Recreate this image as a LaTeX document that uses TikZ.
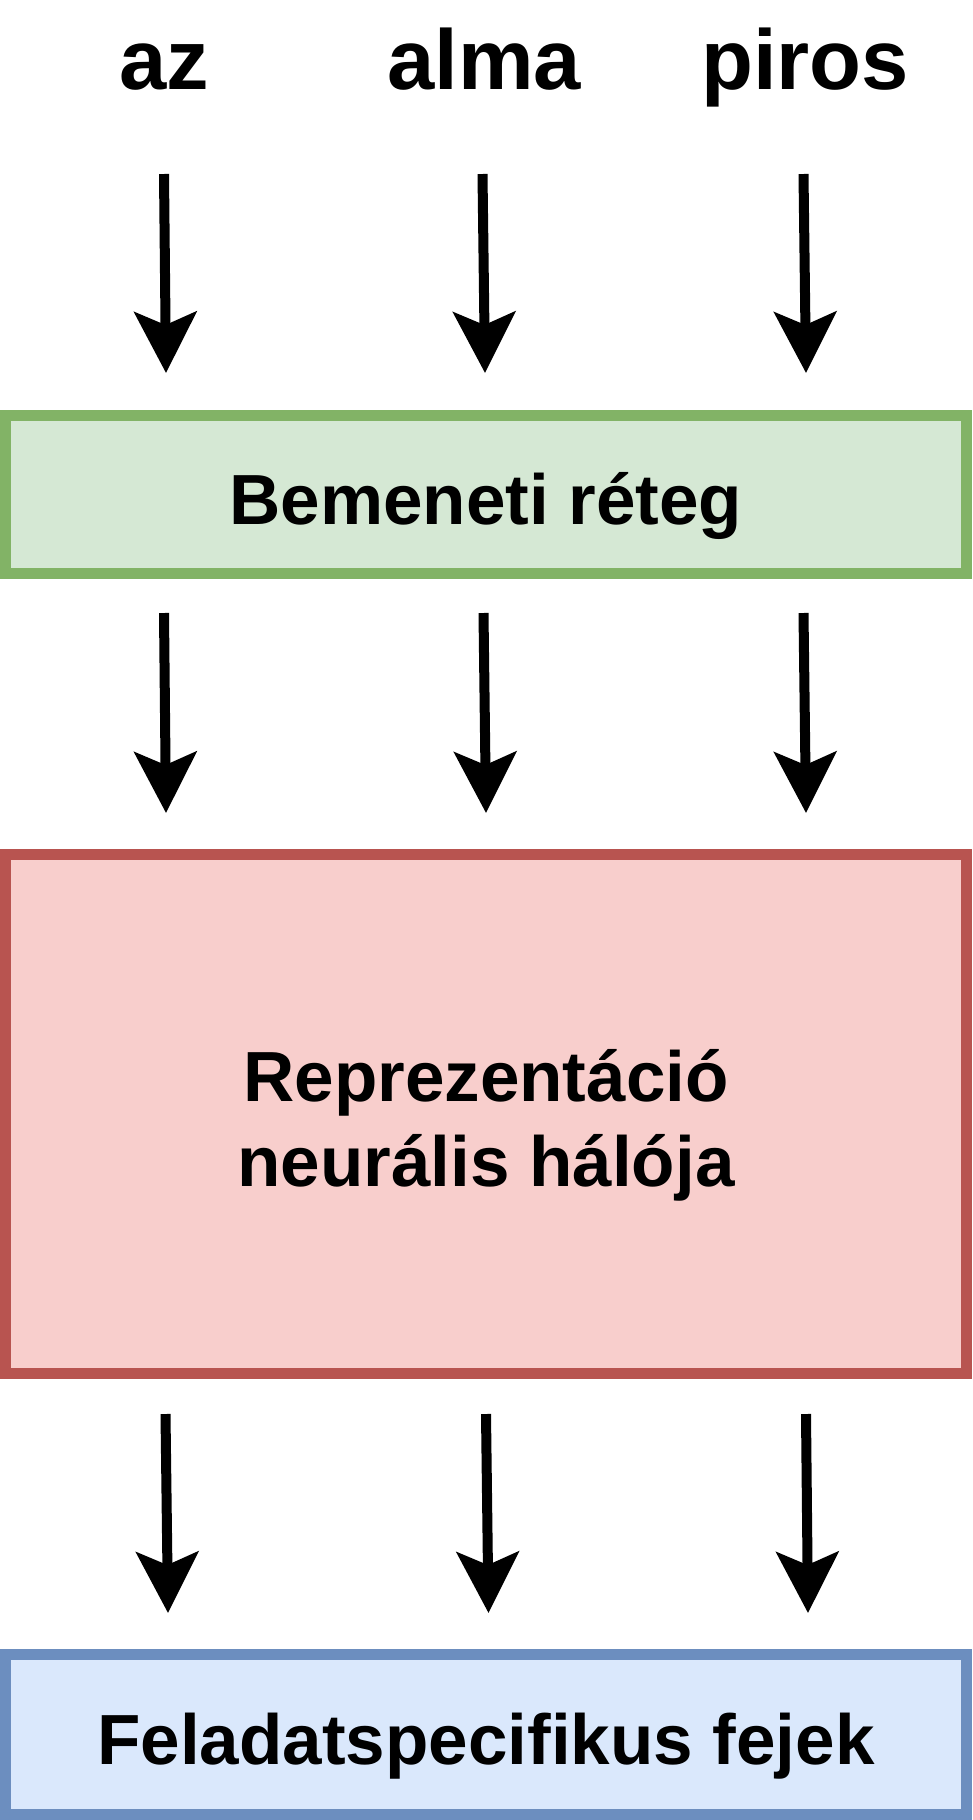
\documentclass[tikz,border=0pt]{standalone}
\usepackage{fontspec}
\setmainfont{Liberation Sans}
\usetikzlibrary{arrows.meta}
\definecolor{gfill}{HTML}{D5E8D4}
\definecolor{gline}{HTML}{82B366}
\definecolor{rfill}{HTML}{F8CECC}
\definecolor{rline}{HTML}{B85450}
\definecolor{bfill}{HTML}{DAE8FC}
\definecolor{bline}{HTML}{6C8EBF}
\tikzset{
  word/.style={anchor=base, inner sep=0pt, font=\fontsize{85bp}{100bp}\selectfont\bfseries},
  layerbox/.style={draw, rectangle, line width=11bp, minimum width=960bp, inner sep=0pt,
    font=\fontsize{71bp}{85bp}\selectfont\bfseries, align=center},
  flow/.style={line width=10bp, -{Stealth[length=61bp,width=62bp,inset=13bp]}},
}
\begin{document}
\begin{tikzpicture}[x=1bp,y=-1bp]
\useasboundingbox (0,0) rectangle (972,1820);
% top words
\node[word] (w1) at (164,89) {az};
\node[word] (w2) at (484,89) {alma};
\node[word] (w3) at (805,89) {piros};
% boxes
\node[layerbox, fill=gfill, draw=gline, minimum height=158bp, text height=60bp, text depth=0bp] (inp) at (486,494) {Bemeneti réteg};
\node[layerbox, fill=rfill, draw=rline, minimum height=519bp, text height=145bp, text depth=0bp] (rep) at (486,1113.5) {Reprezentáció\\neurális hálója};
\node[layerbox, fill=bfill, draw=bline, minimum height=160bp, text height=60bp, text depth=0bp] (head) at (486,1734) {Feladatspecifikus fejek};
% arrow end points
\coordinate (a1s) at (164,174);   \coordinate (a1e) at (166,373);
\coordinate (a2s) at (482.5,174); \coordinate (a2e) at (485,373);
\coordinate (a3s) at (803.5,174); \coordinate (a3e) at (806,373);
\coordinate (b1s) at (164,613);   \coordinate (b1e) at (166,813);
\coordinate (b2s) at (483.5,613); \coordinate (b2e) at (486,813);
\coordinate (b3s) at (803.5,613); \coordinate (b3e) at (806,813);
\coordinate (c1s) at (165.5,1414); \coordinate (c1e) at (168,1613);
\coordinate (c2s) at (486,1414);   \coordinate (c2e) at (488.5,1613);
\coordinate (c3s) at (806,1414);   \coordinate (c3e) at (808,1613);
\foreach \s/\e in {a1s/a1e,a2s/a2e,a3s/a3e,b1s/b1e,b2s/b2e,b3s/b3e,c1s/c1e,c2s/c2e,c3s/c3e}
  \draw[flow] (\s) -- (\e);
\end{tikzpicture}
\end{document}
